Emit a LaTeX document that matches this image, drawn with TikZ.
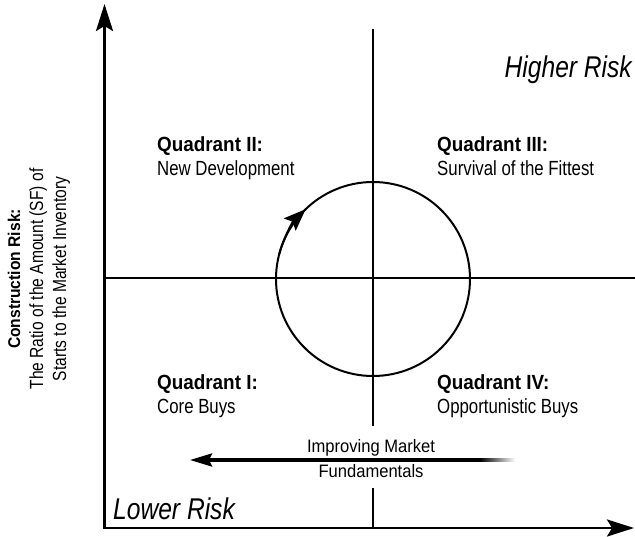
\documentclass[tikz,border=0pt]{standalone}
\usepackage{fontspec}
\setmainfont{Liberation Sans}[FakeStretch=0.82]
\newfontfamily\quadfont{Liberation Sans}[FakeStretch=0.92]
\usetikzlibrary{arrows.meta,positioning}

\tikzset{
  axisline/.style={line width=2.8pt, {Stealth[length=27pt,width=17pt,inset=5pt]}-{Stealth[length=27pt,width=17pt,inset=5pt]}},
  divider/.style={line width=1.5pt},
  loopline/.style={line width=2pt},
  market/.style={line width=3.4pt, -{Stealth[length=22pt,width=13pt,inset=3pt]}},
  marketlabel/.style={inner sep=2.5pt, font=\quadfont\fontsize{18}{22}\selectfont},
  quadrant/.style={anchor=north west, inner sep=0pt, align=left, font=\fontsize{20.5}{24}\selectfont},
  risk/.style={inner sep=0pt, font=\fontsize{30}{36}\selectfont\itshape}
}

\begin{document}
\begin{tikzpicture}[x=1pt, y=1pt]
    \useasboundingbox (0,0) rectangle (635,-536);

    \coordinate (origin) at (104.5,-528);
    \coordinate (y_tip) at (104.5,-4);
    \coordinate (x_tip) at (634,-528);
    \coordinate (center) at (373,-279);

    \coordinate (split_top) at (373,-29);
    \coordinate (split_gap_top) at (373,-426);
    \coordinate (split_gap_bottom) at (373,-488);
    \coordinate (split_bottom) at (373,-528);
    \coordinate (split_left) at (104.5,-278);
    \coordinate (split_right) at (635,-278);

    \path (split_top) edge[divider] (split_gap_top);
    \path (split_gap_bottom) edge[divider] (split_bottom);
    \path (split_left) edge[divider] (split_right);

    \draw[axisline] (y_tip) -- (origin) -- (x_tip);

    \draw[loopline] (center) circle[radius=97];
    \draw[loopline, -{Stealth[length=22pt,width=17pt,inset=4pt]}] (center) ++(165:97) arc[start angle=165, end angle=134, radius=97];

    \node[quadrant] (quadrant_ii) at (157,-136) {{\quadfont\bfseries Quadrant II:}\\New Development};
    \node[quadrant] (quadrant_iii) at (437,-136) {{\quadfont\bfseries Quadrant III:}\\Survival of the Fittest};
    \node[quadrant] (quadrant_i) at (157,-374) {{\quadfont\bfseries Quadrant I:}\\Core Buys};
    \node[quadrant] (quadrant_iv) at (437,-374) {{\quadfont\bfseries Quadrant IV:}\\Opportunistic Buys};

    \node[risk, anchor=base east] (higher_risk) at (632,-77) {Higher Risk};
    \node[risk, anchor=base west] (lower_risk) at (113,-519) {Lower Risk};

    \node[rotate=90, align=center, inner sep=0pt, font=\fontsize{19}{23}\selectfont] (construction_risk) at (39,-279)
         {{\quadfont\bfseries\fontsize{17}{23}\selectfont Construction Risk:}\\The Ratio of the Amount (SF) of\\Starts to the Market Inventory};

    \coordinate (market_start) at (482,-460);
    \coordinate (market_end) at (190,-460);
    \shade[left color=black, right color=white] (480,-458.3) rectangle (515,-461.7);
    \path (market_start) edge[market]
         node[marketlabel, above, pos=0.38] (market_top) {Improving Market}
         node[marketlabel, below, pos=0.38] (market_bottom) {Fundamentals} (market_end);
\end{tikzpicture}
\end{document}
